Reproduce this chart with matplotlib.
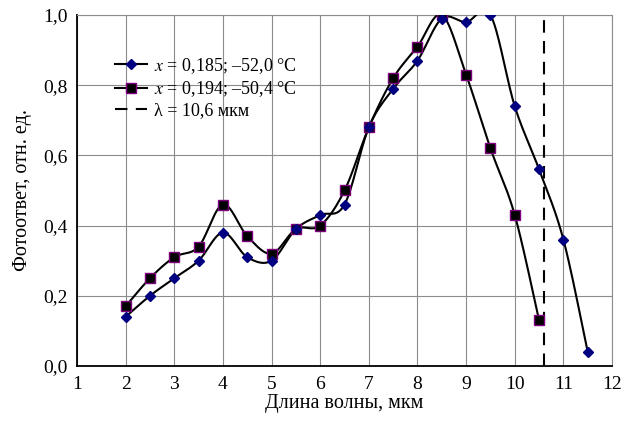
import numpy as np
import matplotlib
matplotlib.use("Agg")
import matplotlib.pyplot as plt
from matplotlib.ticker import FuncFormatter

# wavelength, um
wl_1 = [2, 2.5, 3, 3.5, 4, 4.5, 5, 5.5, 6, 6.5, 7, 7.5, 8, 8.5, 9, 9.5, 10, 10.5, 11, 11.5]
resp_1 = [0.14, 0.20, 0.25, 0.30, 0.38, 0.31, 0.30, 0.39, 0.43, 0.46, 0.68, 0.79, 0.87,
          0.99, 0.98, 1.00, 0.74, 0.56, 0.36, 0.04]
wl_2 = [2, 2.5, 3, 3.5, 4, 4.5, 5, 5.5, 6, 6.5, 7, 7.5, 8, 8.5, 9, 9.5, 10, 10.5]
resp_2 = [0.17, 0.25, 0.31, 0.34, 0.46, 0.37, 0.32, 0.39, 0.40, 0.50, 0.68, 0.82, 0.91,
          1.00, 0.83, 0.62, 0.43, 0.13]
label_1 = "$x$ = 0,185; –52,0 °C"
label_2 = "$x$ = 0,194; –50,4 °C"
laser_wl = 10.6
label_laser = "λ = 10,6 мкм"

plt.rcParams["font.family"] = ["Liberation Serif", "DejaVu Serif"]
plt.rcParams["mathtext.fontset"] = "stix"


def smooth(x, y, n=30):
    # Excel-style smoothed line: cubic bezier segments through the points
    x = np.asarray(x, float)
    y = np.asarray(y, float)
    px = np.concatenate([[x[0]], x, [x[-1]]])
    py = np.concatenate([[y[0]], y, [y[-1]]])
    t = np.linspace(0, 1, n)[:, None]
    out = []
    for i in range(1, len(px) - 2):
        p0 = np.array([px[i], py[i]])
        p3 = np.array([px[i + 1], py[i + 1]])
        p1 = p0 + (p3 - np.array([px[i - 1], py[i - 1]])) / 6
        p2 = p3 - (np.array([px[i + 2], py[i + 2]]) - p0) / 6
        seg = ((1 - t) ** 3) * p0 + 3 * ((1 - t) ** 2) * t * p1 + 3 * (1 - t) * t ** 2 * p2 + t ** 3 * p3
        out.append(seg if i == 1 else seg[1:])
    out = np.vstack(out)
    return out[:, 0], out[:, 1]


fig = plt.figure(figsize=(6.28, 4.23), dpi=100)
ax = fig.add_axes([0.1226, 0.1348, 0.852, 0.8297])

sx, sy = smooth(wl_1, resp_1)
ax.plot(sx, sy, color="black", lw=1.5, zorder=3)
sx, sy = smooth(wl_2, resp_2)
ax.plot(sx, sy, color="black", lw=1.5, zorder=3)

ax.plot(wl_1, resp_1, ls="none", marker="D", ms=5.5, mfc="#000080", mec="#000080", zorder=5)
ax.plot(wl_2, resp_2, ls="none", marker="s", ms=7.5, mfc="black", mec="#800080", mew=1, zorder=4)
ax.plot([laser_wl, laser_wl], [0, 1], color="black", lw=1.5, ls=(0, (6, 4)), zorder=3)

# legend handles
h1, = ax.plot([], [], color="black", lw=1.5, marker="D", ms=5.5, mfc="#000080", mec="#000080")
h2, = ax.plot([], [], color="black", lw=1.5, marker="s", ms=7.5, mfc="black", mec="#800080")
h3, = ax.plot([], [], color="black", lw=1.5, ls=(0, (6, 4)))
ax.legend([h1, h2, h3], [label_1, label_2, label_laser], loc="upper left",
          bbox_to_anchor=(0.048, 0.92), frameon=False, fontsize=13,
          handlelength=1.75, handletextpad=0.4, labelspacing=0.2, borderpad=0.2)

ax.set_xlim(1, 12)
ax.set_ylim(0, 1.0)
ax.set_xticks(range(1, 13))
ax.set_yticks(np.arange(0, 1.01, 0.2))
ax.yaxis.set_major_formatter(FuncFormatter(lambda v, p: f"{v:.1f}".replace(".", ",")))
ax.tick_params(length=0, labelsize=14, pad=7)
ax.grid(True, color="#8c8c8c", lw=0.8)
ax.set_axisbelow(True)
for s in ["top", "right"]:
    ax.spines[s].set_color("#8c8c8c")
for s in ["left", "bottom"]:
    ax.spines[s].set_color("black")
    ax.spines[s].set_linewidth(1.3)

ax.set_xlabel("Длина волны, мкм", fontsize=14.5, labelpad=1)
ax.set_ylabel("Фотоответ, отн. ед.", fontsize=14.5, labelpad=8)

fig.savefig("out.png", dpi=100)
